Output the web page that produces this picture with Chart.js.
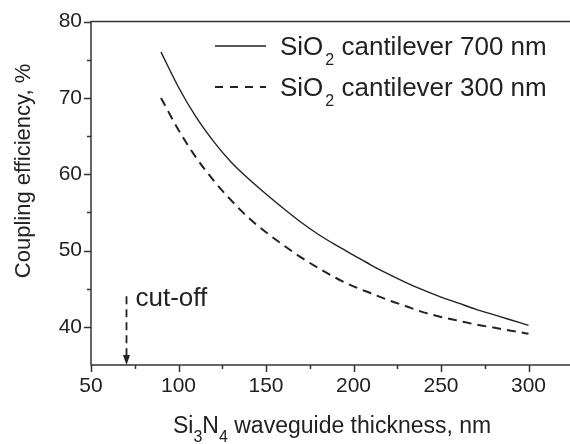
<!DOCTYPE html>
<html><head><meta charset="utf-8">
<style>html,body{margin:0;padding:0;background:#fff}canvas{display:block}</style>
<script src="https://cdn.jsdelivr.net/npm/chart.js@4.4.1/dist/chart.umd.min.js"></script>
</head><body>
<canvas id="c" width="570" height="444"></canvas>
<script>
// ---- data ----
const thickness = [90,100,110,120,130,140,150,160,170,180,190,200,210,220,230,240,250,260,270,280,290,300];
const eff700 = [76.0,71.4,67.5,64.3,61.6,59.4,57.4,55.5,53.7,52.1,50.7,49.4,48.1,46.9,45.8,44.8,43.9,43.1,42.3,41.6,40.9,40.2];
const eff300 = [70.0,65.8,62.2,59.2,56.6,54.3,52.4,50.7,49.1,47.7,46.4,45.3,44.4,43.5,42.7,41.9,41.3,40.8,40.3,39.9,39.5,39.1];
const xTicks = [50,100,150,200,250,300];
const xMinorTicks = [75,125,175,225,275];
const yTicks = [40,50,60,70,80];
const yMinorTicks = [45,55,65,75];
const seriesNames = ['SiO2 cantilever 700 nm','SiO2 cantilever 300 nm'];
const legendParts = [['SiO','2',' cantilever 700 nm'],['SiO','2',' cantilever 300 nm']];
const xTitleParts = [['Si',0],['3',1],['N',0],['4',1],[' waveguide thickness, nm',0]];
const yTitle = 'Coupling efficiency, %';
const cutoffX = 70, cutoffTop = 44, cutoffLabel = 'cut-off';

const FONT = "'Liberation Sans', Arial, Helvetica, sans-serif";
const INK = '#222';

function toXY(xs, ys){ return xs.map((x,i)=>({x:x, y:ys[i]})); }

const deco = {
  id:'deco',
  afterDraw(chart){
    const ctx = chart.ctx, xs = chart.scales.x, ys = chart.scales.y;
    const L = xs.left, R = xs.right, T = ys.top, B = ys.bottom;
    ctx.save();
    ctx.strokeStyle = '#333'; ctx.lineWidth = 1.5; ctx.lineCap = 'butt';
    ctx.beginPath();
    ctx.moveTo(R, T); ctx.lineTo(L, T); ctx.lineTo(L, B); ctx.lineTo(R, B);
    ctx.stroke();
    // ticks
    ctx.beginPath();
    xTicks.forEach(v=>{const p=Math.round(xs.getPixelForValue(v))+0.5; ctx.moveTo(p,B); ctx.lineTo(p,B+7);});
    xMinorTicks.forEach(v=>{const p=Math.round(xs.getPixelForValue(v))+0.5; ctx.moveTo(p,B); ctx.lineTo(p,B+4);});
    yTicks.forEach(v=>{const p=Math.round(ys.getPixelForValue(v))+0.5; ctx.moveTo(L,p); ctx.lineTo(L-7,p);});
    yMinorTicks.forEach(v=>{const p=Math.round(ys.getPixelForValue(v))+0.5; ctx.moveTo(L,p); ctx.lineTo(L-4,p);});
    ctx.stroke();

    // legend
    const ds = chart.data.datasets;
    const rows = [46, 87];
    legendParts.forEach((parts, i)=>{
      const y = rows[i];
      ctx.save();
      ctx.strokeStyle = ds[i].borderColor; ctx.lineWidth = ds[i].borderWidth;
      ctx.setLineDash(i===1 ? [8,7] : []);
      ctx.beginPath(); ctx.moveTo(215, y); ctx.lineTo(266, y); ctx.stroke();
      ctx.restore();
      ctx.fillStyle = INK; ctx.textBaseline = 'alphabetic'; ctx.textAlign = 'left';
      let x = 280; const base = y + 9;
      ctx.font = '26px ' + FONT; ctx.fillText(parts[0], x, base); x += ctx.measureText(parts[0]).width + 2;
      ctx.font = '16px ' + FONT; ctx.fillText(parts[1], x, base + 10); x += ctx.measureText(parts[1]).width;
      ctx.font = '26px ' + FONT; ctx.fillText(parts[2], x, base);
    });

    // cut-off arrow
    const ax = Math.round(xs.getPixelForValue(cutoffX)) + 0.5;
    const ay0 = ys.getPixelForValue(cutoffTop), ay1 = ys.getPixelForValue(ys.min);
    ctx.save();
    ctx.strokeStyle = INK; ctx.lineWidth = 1.8; ctx.setLineDash([8,5]);
    ctx.beginPath(); ctx.moveTo(ax, ay0); ctx.lineTo(ax, ay1 - 8); ctx.stroke();
    ctx.setLineDash([]);
    ctx.fillStyle = INK;
    ctx.beginPath(); ctx.moveTo(ax-3.5, ay1-10); ctx.lineTo(ax+3.5, ay1-10); ctx.lineTo(ax, ay1); ctx.closePath(); ctx.fill();
    ctx.restore();
    ctx.fillStyle = INK; ctx.font = '26px ' + FONT; ctx.textAlign = 'left'; ctx.textBaseline = 'alphabetic';
    ctx.fillText(cutoffLabel, ax + 9, ay0 + 10);

    // x title
    let tx = 173; const tb = 433;
    xTitleParts.forEach(([t, sub])=>{
      ctx.font = (sub ? '16px ' : '23px ') + FONT;
      ctx.fillText(t, tx, sub ? tb + 9 : tb);
      tx += ctx.measureText(t).width;
    });

    // y title
    ctx.save();
    ctx.translate(30, 171); ctx.rotate(-Math.PI/2);
    ctx.font = '22px ' + FONT; ctx.textAlign = 'center'; ctx.textBaseline = 'alphabetic';
    ctx.fillText(yTitle, 0, 0);
    ctx.restore();
    ctx.restore();
  }
};

const bg = { id:'bg', beforeDraw(c){ const x=c.ctx; x.save(); x.fillStyle='#fff'; x.fillRect(0,0,c.width,c.height); x.restore(); } };

new Chart(document.getElementById('c'), {
  type:'line',
  data:{ datasets:[
    { label: seriesNames[0], data: toXY(thickness, eff700), borderColor: INK, borderWidth: 1.4, pointRadius: 0, fill:false, cubicInterpolationMode:'monotone' },
    { label: seriesNames[1], data: toXY(thickness, eff300), borderColor: INK, borderWidth: 2, borderDash:[9,6], pointRadius: 0, fill:false, cubicInterpolationMode:'monotone' }
  ]},
  options:{
    responsive:false, animation:false, devicePixelRatio:1,
    layout:{ padding:{ top:20, right:0, left:0, bottom:0 } },
    plugins:{ legend:{display:false}, tooltip:{enabled:false}, title:{display:false} },
    scales:{
      x:{ type:'linear', min:50, max:323.7,
          grid:{ display:false, drawTicks:false }, border:{ display:false },
          afterBuildTicks(s){ s.ticks = xTicks.map(v=>({value:v})); },
          afterFit(s){ s.height = 79; },
          ticks:{ color: INK, font:{ family: FONT, size:21 }, padding: 9, maxRotation:0, autoSkip:false } },
      y:{ type:'linear', min:35, max:80,
          grid:{ display:false, drawTicks:false }, border:{ display:false },
          afterBuildTicks(s){ s.ticks = yTicks.map(v=>({value:v})); },
          afterFit(s){ s.width = 91; },
          ticks:{ color: INK, font:{ family: FONT, size:21 }, padding: 9, autoSkip:false } }
    }
  },
  plugins:[bg, deco]
});
</script>
</body></html>
